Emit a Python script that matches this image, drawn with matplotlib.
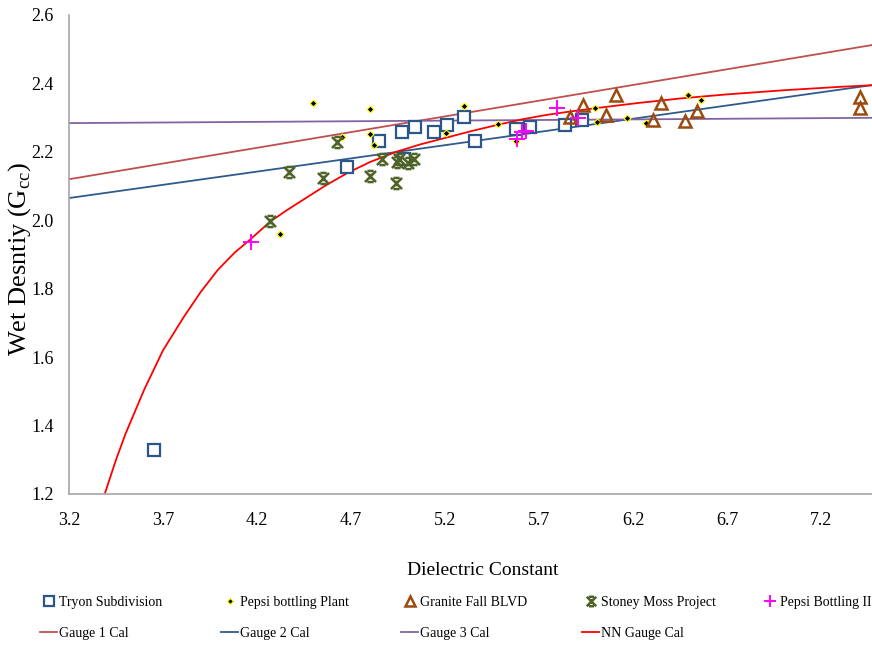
import matplotlib
matplotlib.use("Agg")
import matplotlib.pyplot as plt
from matplotlib.path import Path

plt.rcParams['font.family'] = ['Liberation Serif', 'DejaVu Serif']
plt.rcParams['mathtext.fontset'] = 'custom'
plt.rcParams['mathtext.rm'] = 'Liberation Serif'

# data
tryon_x = [3.65, 4.68, 4.85, 4.97, 5.04, 4.98, 5.14, 5.21, 5.30, 5.36, 5.58, 5.65, 5.84, 5.93]
tryon_y = [1.33, 2.156, 2.232, 2.258, 2.273, 2.179, 2.257, 2.278, 2.302, 2.232, 2.267, 2.272, 2.278, 2.293]

pepsi_x = [4.50, 4.80, 4.80, 4.65, 4.82, 4.32, 5.30, 5.205, 5.48, 5.58, 6.00, 6.01, 6.17, 6.27, 6.49, 6.56]
pepsi_y = [2.343, 2.325, 2.252, 2.243, 2.22, 1.96, 2.334, 2.255, 2.281, 2.232, 2.328, 2.287, 2.299, 2.284, 2.366, 2.351]

granite_x = [5.865, 5.934, 6.11, 6.056, 6.35, 6.306, 6.477, 6.54, 7.41, 7.41]
granite_y = [2.302, 2.337, 2.366, 2.307, 2.342, 2.293, 2.29, 2.319, 2.36, 2.328]

stoney_x = [4.27, 4.37, 4.55, 4.627, 4.80, 4.866, 4.94, 4.955, 5.003, 5.035, 4.945]
stoney_y = [1.998, 2.141, 2.123, 2.229, 2.129, 2.179, 2.109, 2.179, 2.167, 2.179, 2.17]

pepsi2_x = [4.17, 5.795, 5.583, 5.61, 5.63, 5.91]
pepsi2_y = [1.936, 2.328, 2.237, 2.258, 2.26, 2.299]

gauge_x = [3.2, 7.6]
gauge1_y = [2.12, 2.524]
gauge2_y = [2.065, 2.405]
gauge3_y = [2.284, 2.300]

nn_x = [3.39, 3.45, 3.50, 3.60, 3.70, 3.81, 3.90, 3.99, 4.08, 4.16, 4.27, 4.36, 4.44, 4.56, 4.68, 4.80,
        4.94, 5.07, 5.21, 5.35, 5.48, 5.61, 5.74, 5.88, 6.02, 6.23, 6.45, 6.70, 7.0, 7.3, 7.6]
nn_y = [1.20, 1.30, 1.375, 1.505, 1.62, 1.717, 1.79, 1.854, 1.905, 1.942, 1.996, 2.03, 2.058, 2.10, 2.138, 2.17,
        2.20, 2.222, 2.242, 2.262, 2.279, 2.295, 2.308, 2.319, 2.329, 2.343, 2.356, 2.368, 2.38, 2.39, 2.398]

xticks = [3.2, 3.7, 4.2, 4.7, 5.2, 5.7, 6.2, 6.7, 7.2]
yticks = [1.2, 1.4, 1.6, 1.8, 2.0, 2.2, 2.4, 2.6]

star = Path([(-1, -1), (1, 1), (-1, 1), (1, -1), (-0.55, 1), (0.55, 1), (-0.55, -1), (0.55, -1), (0, -0.5), (0, 0.5)],
            [Path.MOVETO, Path.LINETO] * 5)

W, H = 872, 645
fig = plt.figure(figsize=(W / 100, H / 100), dpi=100)
left, bottom, top = 69, 494, 15
right = 69 + 4.4 * 188
ax = fig.add_axes([left / W, 1 - bottom / H, (right - left) / W, (bottom - top) / H])

l1, = ax.plot(gauge_x, gauge1_y, color='#C0504D', lw=1.3, label='Gauge 1 Cal')
l2, = ax.plot(gauge_x, gauge2_y, color='#2F5A8C', lw=1.3, label='Gauge 2 Cal')
l3, = ax.plot(gauge_x, gauge3_y, color='#8064A2', lw=1.3, label='Gauge 3 Cal')
l4, = ax.plot(nn_x, nn_y, color='#FF0000', lw=1.3, label='NN Gauge Cal')

s1, = ax.plot(tryon_x, tryon_y, 's', ms=8.5, mfc='white', mec='#2A5689', mew=1.6, ls='none', label='Tryon Subdivision')
s2, = ax.plot(pepsi_x, pepsi_y, 'D', ms=3.5, mfc='black', mec='#FFFF00', mew=0.8, ls='none', label='Pepsi bottling Plant')
s3, = ax.plot(granite_x, granite_y, '^', ms=8.5, mfc='none', mec='#9C4A0E', mew=1.8, ls='none', label='Granite Fall BLVD')
s4, = ax.plot(stoney_x, stoney_y, marker=star, ms=8, color='#4F6228', mew=1.8, ls='none', label='Stoney Moss Project')
s5, = ax.plot(pepsi2_x, pepsi2_y, '+', ms=11, color='#FF00FF', mew=1.4, ls='none', label='Pepsi Bottling II')

ax.set_xlim(3.2, 7.6)
ax.set_ylim(1.2, 2.6)
ax.set_xticks(xticks)
ax.set_xticklabels([f'{v:.1f}' for v in xticks])
ax.set_yticks(yticks)
ax.set_yticklabels([f'{v:.1f}' for v in yticks])
ax.tick_params(length=0, labelsize=13)
ax.tick_params(axis='x', pad=13)
ax.tick_params(axis='y', pad=11)
for side in ['top', 'right']:
    ax.spines[side].set_visible(False)
for side in ['left', 'bottom']:
    ax.spines[side].set_color('#A6A6A6')
    ax.spines[side].set_linewidth(1.2)

ax.set_xlabel('Dielectric Constant', fontsize=14)
ax.xaxis.set_label_coords(0.5, -0.142)
ax.set_ylabel('Wet Desntiy (G$_{\\mathrm{cc}}$)', fontsize=19)
ax.yaxis.set_label_coords(-0.044, 0.49)

cols = [(s1, l1), (s2, l2), (s3, l3), (s4, l4), (s5,)]
col_x = [40, 221, 401, 582, 761]
for hs, cx in zip(cols, col_x):
    fig.legend(handles=list(hs), loc='upper left', bbox_to_anchor=(cx / W, 1 - 596 / H),
               frameon=False, fontsize=10, borderpad=0, borderaxespad=0, markerscale=0.85,
               handlelength=1.25, handletextpad=0.15, labelspacing=1.3, numpoints=1)

fig.savefig('out.png', dpi=100)
